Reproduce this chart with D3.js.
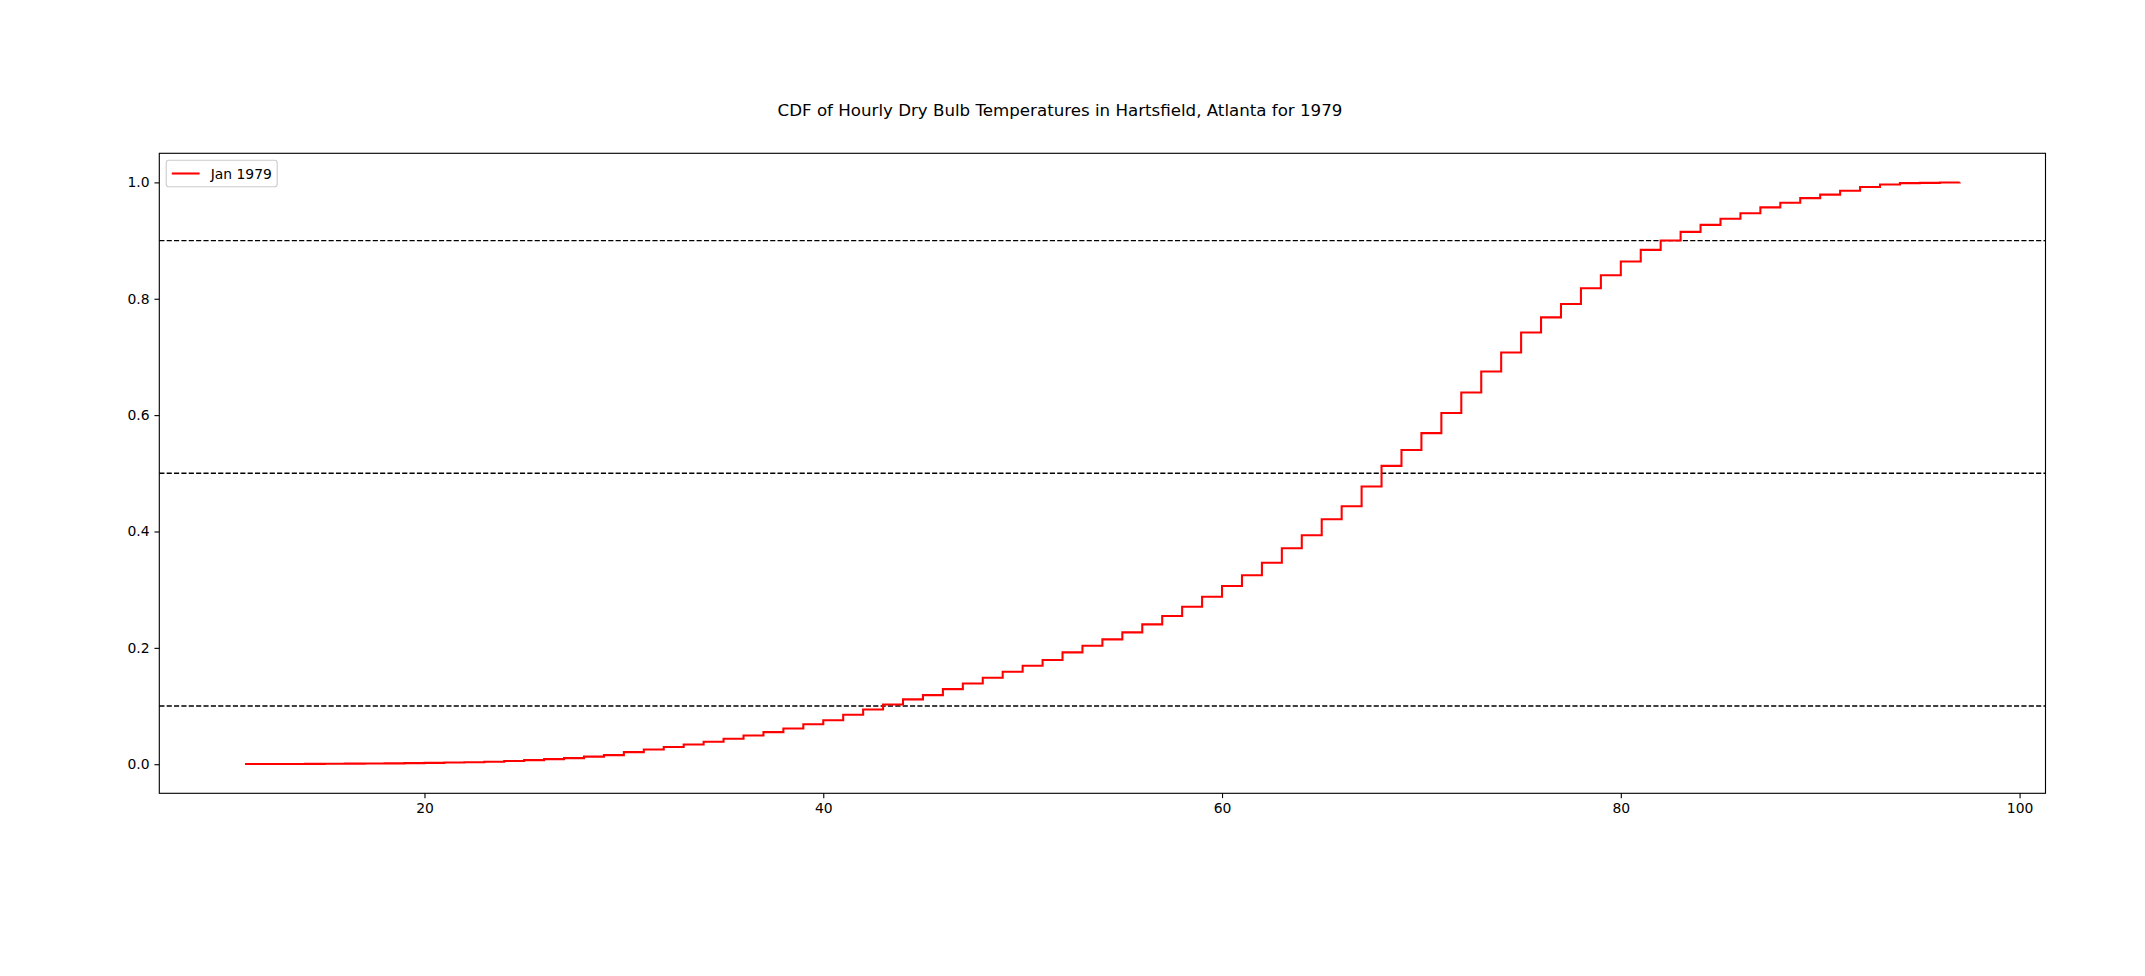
<!DOCTYPE html>
<html>
<head>
<meta charset="utf-8">
<script src="https://cdn.jsdelivr.net/npm/d3@7"></script>
<style>
  html, body { margin: 0; padding: 0; background: #ffffff; }
  svg { display: block; }
  text { font-family: "DejaVu Sans", sans-serif; fill: #000; }
</style>
</head>
<body>
<div id="chart"></div>
<script>
// ---- data ----
const titleText = "CDF of Hourly Dry Bulb Temperatures in Hartsfield, Atlanta for 1979";
const seriesName = "Jan 1979";
const temps = [11,12,13,14,15,16,17,18,19,20,21,22,23,24,25,26,27,28,29,30,
               31,32,33,34,35,36,37,38,39,40,41,42,43,44,45,46,47,48,49,50,
               51,52,53,54,55,56,57,58,59,60,61,62,63,64,65,66,67,68,69,70,
               71,72,73,74,75,76,77,78,79,80,81,82,83,84,85,86,87,88,89,90,
               91,92,93,94,95,96,97];
const cdfValues = [0.0003,0.0004,0.0005,0.0006,0.0008,0.0010,0.0012,0.0015,0.0019,0.0023,
                   0.0029,0.0035,0.0043,0.0055,0.0070,0.0087,0.0105,0.0131,0.0156,0.0208,
                   0.0254,0.0297,0.0340,0.0386,0.0437,0.0493,0.0551,0.0614,0.0688,0.0757,
                   0.0849,0.0941,0.1027,0.1115,0.1187,0.1290,0.1388,0.1486,0.1589,0.1692,
                   0.1790,0.1922,0.2036,0.2146,0.2266,0.2404,0.2547,0.2707,0.2879,0.3063,
                   0.3247,0.3464,0.3712,0.3935,0.4211,0.4434,0.4772,0.5128,0.5400,0.5690,
                   0.6035,0.6390,0.6750,0.7075,0.7420,0.7680,0.7910,0.8180,0.8405,0.8640,
                   0.8840,0.9000,0.9150,0.9270,0.9376,0.9470,0.9570,0.9650,0.9730,0.9790,
                   0.9855,0.9920,0.9965,0.9988,0.9992,0.9997,1.0000];
const refLevels = [0.1, 0.5, 0.9];
const xTicks = [20, 40, 60, 80, 100];
const yTicks = [0.0, 0.2, 0.4, 0.6, 0.8, 1.0];

// ---- layout ----
const W = 2145, H = 976;
const plot = { left: 159.3, right: 2045.5, top: 153.3, bottom: 793.3 };
const fs = 13.9;          // 10pt at 100 dpi
const tickLen = 4.86;     // 3.5pt
const tickPad = 4.86;

const svg = d3.select("#chart").append("svg")
  .attr("width", W).attr("height", H)
  .attr("viewBox", `0 0 ${W} ${H}`);

svg.append("rect").attr("width", W).attr("height", H).attr("fill", "#fff");

const xMin = d3.min(temps), xMax = d3.max(temps);
const xSpan = xMax - xMin;
const x = d3.scaleLinear()
  .domain([xMin - 0.05 * xSpan, xMax + 0.05 * xSpan])
  .range([plot.left, plot.right]);
const y = d3.scaleLinear()
  .domain([-0.05, 1.05])
  .range([plot.bottom, plot.top]);

// reference dashed lines
svg.append("g").selectAll("line")
  .data(refLevels).join("line")
  .attr("x1", plot.left).attr("x2", plot.right)
  .attr("y1", d => y(d)).attr("y2", d => y(d))
  .attr("stroke", "#000")
  .attr("stroke-width", 1.39)
  .attr("stroke-dasharray", "5.14,2.22");

// CDF step line
const pts = temps.map((t, i) => [t, cdfValues[i]]);
const line = d3.line()
  .x(d => x(d[0]))
  .y(d => y(d[1]))
  .curve(d3.curveStepAfter);
svg.append("path")
  .datum(pts)
  .attr("d", line)
  .attr("fill", "none")
  .attr("stroke", "#ff0000")
  .attr("stroke-width", 2.08)
  .attr("stroke-linejoin", "miter");

// axes
const xAxis = d3.axisBottom(x).tickValues(xTicks).tickFormat(d3.format("d"))
  .tickSize(tickLen).tickSizeOuter(0).tickPadding(tickPad);
const yAxis = d3.axisLeft(y).tickValues(yTicks).tickFormat(d3.format(".1f"))
  .tickSize(tickLen).tickSizeOuter(0).tickPadding(tickPad);

const gx = svg.append("g").attr("transform", `translate(0,${plot.bottom})`).call(xAxis);
const gy = svg.append("g").attr("transform", `translate(${plot.left},0)`).call(yAxis);
[gx, gy].forEach(g => {
  g.select(".domain").remove();
  g.selectAll(".tick line").attr("stroke", "#000").attr("stroke-width", 1.11);
  g.selectAll(".tick text")
    .attr("font-family", "DejaVu Sans")
    .attr("font-size", fs)
    .attr("fill", "#000");
});

// frame
svg.append("rect")
  .attr("x", plot.left).attr("y", plot.top)
  .attr("width", plot.right - plot.left)
  .attr("height", plot.bottom - plot.top)
  .attr("fill", "none")
  .attr("stroke", "#000")
  .attr("stroke-width", 1.11);

// title
svg.append("text")
  .attr("x", 1060).attr("y", 115.5)
  .attr("text-anchor", "middle")
  .attr("font-size", 16.67)
  .text(titleText);

// legend
const lg = svg.append("g");
lg.append("rect")
  .attr("x", 166.2).attr("y", 160.3)
  .attr("width", 111).attr("height", 26.5)
  .attr("rx", 2.8).attr("ry", 2.8)
  .attr("fill", "#fff").attr("fill-opacity", 0.8)
  .attr("stroke", "#cccccc").attr("stroke-width", 1.11);
lg.append("line")
  .attr("x1", 171.8).attr("x2", 199.6)
  .attr("y1", 173.5).attr("y2", 173.5)
  .attr("stroke", "#ff0000").attr("stroke-width", 2.08);
lg.append("text")
  .attr("x", 210.7).attr("y", 178.6)
  .attr("font-size", fs)
  .text(seriesName);
</script>
</body>
</html>
